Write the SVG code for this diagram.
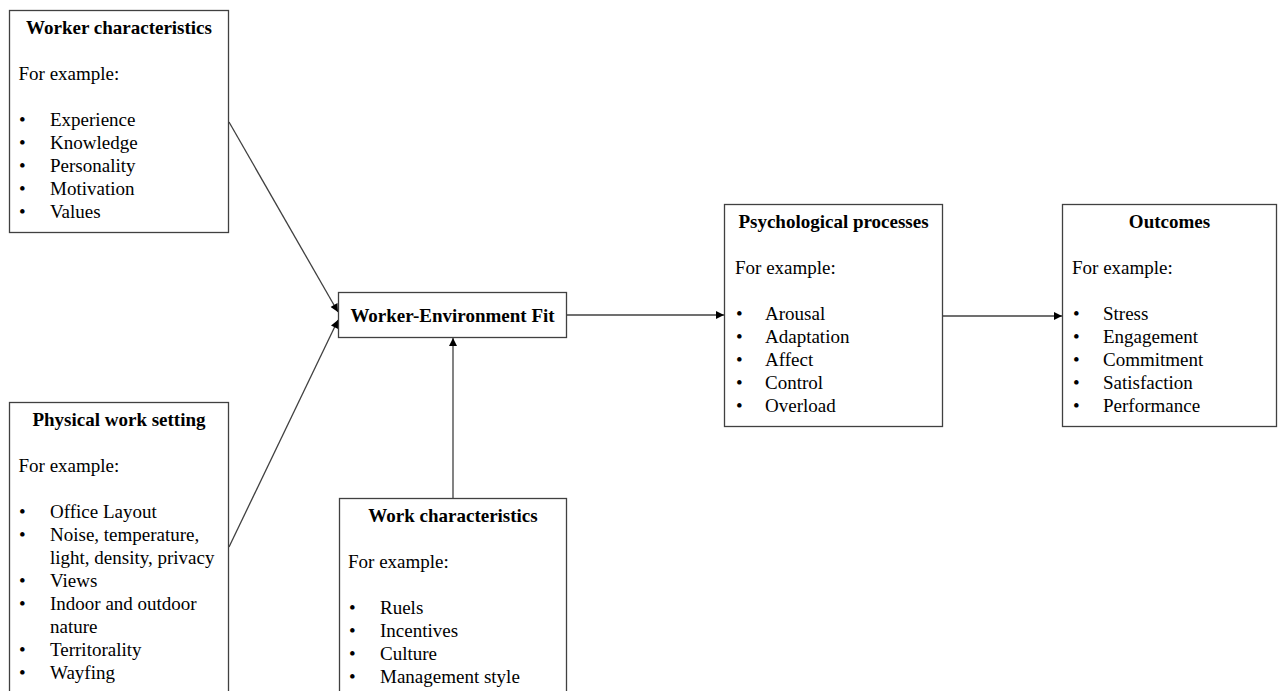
<svg xmlns="http://www.w3.org/2000/svg" width="1279" height="691" viewBox="0 0 1279 691">
<style>
.box{fill:#fff;stroke:#404040;stroke-width:1.3}
.t{font-family:"Liberation Serif","Times New Roman",serif;font-size:19px;fill:#000}
.b{font-weight:bold;text-anchor:middle}
.con{fill:none;stroke:#404040;stroke-width:1.3}
</style>
<defs>
<marker id="ah" viewBox="0 0 10 10" refX="10" refY="5" markerWidth="9" markerHeight="8" markerUnits="userSpaceOnUse" orient="auto">
<path d="M0,0 L10,5 L0,10 z" fill="#000"/>
</marker>
</defs>
<rect width="1279" height="691" fill="#fff"/>
<g id="connectors">
<line class="con" x1="229" y1="122" x2="338" y2="312" marker-end="url(#ah)"/>
<line class="con" x1="229" y1="547" x2="338" y2="320" marker-end="url(#ah)"/>
<line class="con" x1="453" y1="498" x2="453" y2="338" marker-end="url(#ah)"/>
<line class="con" x1="567" y1="315" x2="724" y2="315" marker-end="url(#ah)"/>
<line class="con" x1="942" y1="316" x2="1062" y2="316" marker-end="url(#ah)"/>
</g>
<g id="worker">
<rect class="box" x="9.5" y="10.5" width="219" height="222"/>
<text class="t b" x="119" y="34">Worker characteristics</text>
<text class="t" x="18.5" y="80">For example:</text>
<g class="t">
<text x="19" y="126">•</text><text x="50" y="126">Experience</text>
<text x="19" y="149">•</text><text x="50" y="149">Knowledge</text>
<text x="19" y="172">•</text><text x="50" y="172">Personality</text>
<text x="19" y="195">•</text><text x="50" y="195">Motivation</text>
<text x="19" y="218">•</text><text x="50" y="218">Values</text>
</g>
</g>
<g id="physical">
<rect class="box" x="9.5" y="402.5" width="219" height="300"/>
<text class="t b" x="119" y="426">Physical work setting</text>
<text class="t" x="18.5" y="472">For example:</text>
<g class="t">
<text x="19" y="518">•</text><text x="50" y="518">Office Layout</text>
<text x="19" y="541">•</text><text x="50" y="541">Noise, temperature,</text>
<text x="50" y="564">light, density, privacy</text>
<text x="19" y="587">•</text><text x="50" y="587">Views</text>
<text x="19" y="610">•</text><text x="50" y="610">Indoor and outdoor</text>
<text x="50" y="633">nature</text>
<text x="19" y="656">•</text><text x="50" y="656">Territorality</text>
<text x="19" y="679">•</text><text x="50" y="679">Wayfing</text>
</g>
</g>
<g id="fit">
<rect class="box" x="338.5" y="292.5" width="228" height="45"/>
<text class="t b" x="452.5" y="321.5">Worker-Environment Fit</text>
</g>
<g id="work">
<rect class="box" x="339.5" y="498.5" width="227" height="210"/>
<text class="t b" x="453" y="522">Work characteristics</text>
<text class="t" x="348" y="568">For example:</text>
<g class="t">
<text x="349" y="614">•</text><text x="380" y="614">Ruels</text>
<text x="349" y="637">•</text><text x="380" y="637">Incentives</text>
<text x="349" y="660">•</text><text x="380" y="660">Culture</text>
<text x="349" y="683">•</text><text x="380" y="683">Management style</text>
</g>
</g>
<g id="psych">
<rect class="box" x="724.5" y="204.5" width="218" height="222"/>
<text class="t b" x="833.5" y="228">Psychological processes</text>
<text class="t" x="735" y="274">For example:</text>
<g class="t">
<text x="736" y="320">•</text><text x="765" y="320">Arousal</text>
<text x="736" y="343">•</text><text x="765" y="343">Adaptation</text>
<text x="736" y="366">•</text><text x="765" y="366">Affect</text>
<text x="736" y="389">•</text><text x="765" y="389">Control</text>
<text x="736" y="412">•</text><text x="765" y="412">Overload</text>
</g>
</g>
<g id="outcomes">
<rect class="box" x="1062.5" y="204.5" width="214" height="222"/>
<text class="t b" x="1169.5" y="228">Outcomes</text>
<text class="t" x="1072" y="274">For example:</text>
<g class="t">
<text x="1073" y="320">•</text><text x="1103" y="320">Stress</text>
<text x="1073" y="343">•</text><text x="1103" y="343">Engagement</text>
<text x="1073" y="366">•</text><text x="1103" y="366">Commitment</text>
<text x="1073" y="389">•</text><text x="1103" y="389">Satisfaction</text>
<text x="1073" y="412">•</text><text x="1103" y="412">Performance</text>
</g>
</g>
</svg>
